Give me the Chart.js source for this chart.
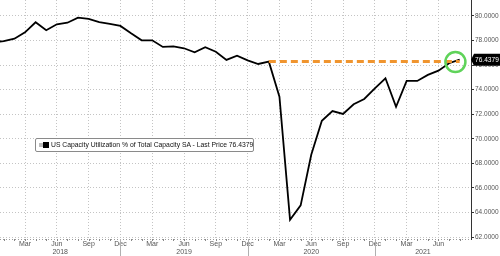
<!DOCTYPE html>
<html>
<head>
<meta charset="utf-8">
<script src="https://cdn.jsdelivr.net/npm/chart.js@4.4.1/dist/chart.umd.min.js"></script>
<style>
  html, body { margin: 0; padding: 0; background: #fff; }
  #wrap { position: relative; width: 500px; height: 256px; }
  #legend {
    position: absolute; left: 35px; top: 138px; width: 217px; height: 12px;
    border: 1px solid #8a8a8a; border-radius: 2px; background: #fff;
    font: 6.8px "Liberation Sans", sans-serif; color: #111; line-height: 12px;
    white-space: nowrap; box-sizing: content-box;
  }
  #legend .k1 { position: absolute; left: 3px; top: 4px; width: 4px; height: 4px; background: #bbb; }
  #legend .k2 { position: absolute; left: 7px; top: 3px; width: 6px; height: 6px; background: #000; }
  #legend span.t { position: absolute; left: 15px; top: 0; }
</style>
</head>
<body>
<div id="wrap">
  <canvas id="graph" width="500" height="256"></canvas>
  <div id="legend"><i class="k1"></i><i class="k2"></i><span class="t">US Capacity Utilization % of Total Capacity SA - Last Price 76.4379</span></div>
</div>
<script>
// monthly values, Dec 2017 .. Aug 2021 (index -1 = Dec 2017, 0 = Jan 2018)
const utilisation = [77.85,
  77.96, 78.15, 78.67, 79.49, 78.84, 79.32, 79.45, 79.86, 79.76, 79.49, 79.35, 79.19,
  78.59, 78.02, 78.02, 77.48, 77.53, 77.37, 77.04, 77.45, 77.09, 76.42, 76.77, 76.38,
  76.09, 76.28, 73.43, 63.41, 64.58, 68.70, 71.47, 72.26, 72.02, 72.81, 73.24, 74.11,
  74.93, 72.61, 74.71, 74.71, 75.20, 75.55, 76.15, 76.44];
const firstIndex = -1;

// month index of the x ticks (0 = Jan 2018)
const tickMonths = [2, 5, 8, 11, 14, 17, 20, 23, 26, 29, 32, 35, 38, 41];
const tickLabels = ['Mar','Jun','Sep','Dec','Mar','Jun','Sep','Dec','Mar','Jun','Sep','Dec','Mar','Jun'];
const years = ['2018', '2019', '2020', '2021'];
const yearBreaks = [11, 23, 35];
const yTicks = [62, 64, 66, 68, 70, 72, 74, 76, 78, 80];

// pre-pandemic level line and highlight
const levelFrom = 25, levelTo = 43, levelValue = 76.3;
const circleAt = [42.6, 76.25];
const lastPrice = 76.4379;

const font = { family: 'Liberation Sans', size: 7 };

const extras = {
  id: 'extras',
  afterDraw(chart) {
    const { ctx, chartArea: a, scales: { x, y } } = chart;
    ctx.save();
    // bottom dotted axis
    ctx.strokeStyle = '#9a9a9a';
    ctx.lineWidth = 1;
    ctx.setLineDash([1, 2]);
    ctx.beginPath();
    ctx.moveTo(a.left, a.bottom + 0.5);
    ctx.lineTo(a.right, a.bottom + 0.5);
    ctx.stroke();
    ctx.setLineDash([]);
    // small month ticks
    ctx.strokeStyle = '#888';
    for (let m = 0; m <= 43; m++) {
      const px = Math.round(x.getPixelForValue(m)) + 0.5;
      ctx.beginPath();
      ctx.moveTo(px, a.bottom);
      ctx.lineTo(px, a.bottom + 2);
      ctx.stroke();
    }
    // year separators
    ctx.strokeStyle = '#b0b0b0';
    yearBreaks.forEach(b => {
      const px = Math.round(x.getPixelForValue(b)) + 0.5;
      ctx.beginPath();
      ctx.moveTo(px, a.bottom);
      ctx.lineTo(px, chart.height);
      ctx.stroke();
    });
    // year labels centred in their span
    const edges = [a.left].concat(yearBreaks.map(b => x.getPixelForValue(b)), [a.right]);
    ctx.fillStyle = '#555';
    ctx.font = '7px "Liberation Sans"';
    ctx.textAlign = 'center';
    ctx.textBaseline = 'middle';
    years.forEach((yr, i) => ctx.fillText(yr, (edges[i] + edges[i + 1]) / 2, 252.5));
    // last price tag
    const py = y.getPixelForValue(lastPrice);
    ctx.fillStyle = '#000';
    ctx.beginPath();
    ctx.moveTo(a.right, py);
    ctx.lineTo(a.right + 3, py - 6);
    ctx.lineTo(500, py - 6);
    ctx.lineTo(500, py + 6);
    ctx.lineTo(a.right + 3, py + 6);
    ctx.closePath();
    ctx.fill();
    ctx.fillStyle = '#fff';
    ctx.font = '6.6px "Liberation Sans"';
    ctx.textAlign = 'left';
    ctx.fillText(lastPrice.toFixed(4), a.right + 4, py + 0.5);
    ctx.restore();
  }
};

new Chart(document.getElementById('graph'), {
  type: 'line',
  data: {
    datasets: [
      {
        data: [{ x: circleAt[0], y: circleAt[1] }],
        showLine: false,
        pointRadius: 10,
        pointBorderWidth: 2.5,
        pointBorderColor: '#5fd35a',
        pointBackgroundColor: 'rgba(0,0,0,0)'
      },
      {
        data: [{ x: levelFrom, y: levelValue }, { x: levelTo, y: levelValue }],
        borderColor: '#f0952f',
        borderWidth: 3,
        borderDash: [7, 4],
        pointRadius: 0
      },
      {
        data: utilisation.map((v, i) => ({ x: i + firstIndex, y: v })),
        borderColor: '#000',
        borderWidth: 1.8,
        pointRadius: 0,
        tension: 0
      }
    ]
  },
  options: {
    responsive: false,
    animation: false,
    events: [],
    layout: { padding: 0, autoPadding: false },
    plugins: { legend: { display: false }, tooltip: { enabled: false } },
    scales: {
      x: {
        type: 'linear',
        min: -0.36,
        max: 44.07,
        afterBuildTicks: s => { s.ticks = tickMonths.map(v => ({ value: v })); },
        afterFit: s => { s.height = 17; s.paddingLeft = 0; s.paddingRight = 0; },
        ticks: {
          font: font,
          color: '#555',
          padding: 1,
          maxRotation: 0,
          autoSkip: false,
          callback: (v) => tickLabels[tickMonths.indexOf(v)]
        },
        grid: { color: '#c4c4c4', drawTicks: false },
        border: { display: false, dash: [1, 2] }
      },
      y: {
        position: 'right',
        min: 61.84,
        max: 81.3,
        afterBuildTicks: s => { s.ticks = yTicks.map(v => ({ value: v })); },
        afterFit: s => { s.width = 29; s.paddingTop = 0; s.paddingBottom = 0; },
        ticks: {
          font: { family: 'Liberation Sans', size: 6.5 },
          color: '#555',
          padding: 1,
          callback: v => Number(v).toFixed(4)
        },
        grid: { color: '#c4c4c4', tickLength: 3, tickColor: '#333', tickWidth: 1 },
        border: { display: true, color: '#333', width: 1, dash: [1, 2] }
      }
    }
  },
  plugins: [extras]
});
</script>
</body>
</html>
